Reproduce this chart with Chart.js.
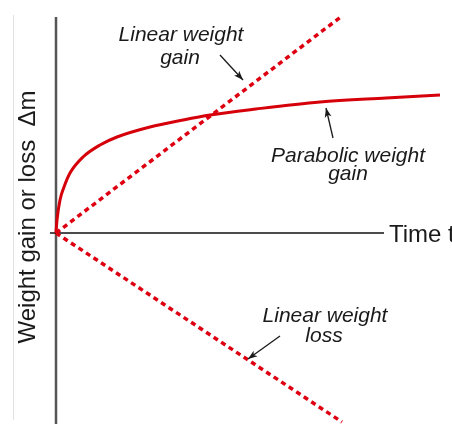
<!DOCTYPE html>
<html>
<head>
<meta charset="utf-8">
<script src="https://cdn.jsdelivr.net/npm/chart.js@4"></script>
<style>
  html, body { margin: 0; padding: 0; background: #fff; }
  #wrap { width: 452px; height: 424px; position: relative; }
</style>
</head>
<body>
<div id="wrap"><canvas id="myChart"></canvas></div>
<script>
// data (x = time, y = weight change), arbitrary units
const parabolicX = [0, 1, 4, 8, 14, 27, 44, 61, 94, 127, 154, 200, 264, 330, 384]
const parabolicY = [0, 13, 33, 46, 60, 76, 88, 96, 106, 113, 118, 124, 131, 135, 138]
const linearGainX = [0, 286]
const linearGainY = [0, 217]
const linearLossX = [0, 286]
const linearLossY = [0, -189]

const toPoints = (xs, ys) => xs.map((x, i) => ({ x: x, y: ys[i] }))

const red = 'rgb(222,0,16)'

const axesAndNotes = {
  id: 'axesAndNotes',
  beforeDatasetsDraw(chart) {
    const c = chart.ctx
    const x = chart.scales.x
    const y = chart.scales.y
    c.save()
    // faint frame line on the left
    c.strokeStyle = '#e2e2e2'
    c.lineWidth = 1
    c.beginPath()
    c.moveTo(13.5, 15)
    c.lineTo(13.5, 420)
    c.stroke()
    // y axis
    c.strokeStyle = '#555'
    c.lineWidth = 2.5
    c.beginPath()
    c.moveTo(x.getPixelForValue(0), y.getPixelForValue(216))
    c.lineTo(x.getPixelForValue(0), y.getPixelForValue(y.min))
    c.stroke()
    // x axis
    c.strokeStyle = '#111'
    c.lineWidth = 1.5
    c.beginPath()
    c.moveTo(x.getPixelForValue(-6), y.getPixelForValue(0))
    c.lineTo(x.getPixelForValue(328), y.getPixelForValue(0))
    c.stroke()
    c.restore()
  },
  afterDatasetsDraw(chart) {
    const c = chart.ctx
    c.save()
    c.fillStyle = '#1a1a1a'
    c.font = '24px "Liberation Sans", Arial, sans-serif'
    c.textAlign = 'left'
    c.textBaseline = 'alphabetic'
    c.fillText('Time t', 389, 242)

    c.save()
    c.translate(35, 217)
    c.rotate(-Math.PI / 2)
    c.textAlign = 'center'
    c.fillText('Weight gain or loss  \u0394m', 0, 0)
    c.restore()

    c.font = 'italic 21px "Liberation Sans", Arial, sans-serif'
    c.textAlign = 'center'
    c.fillText('Linear weight', 181, 41)
    c.fillText('gain', 180, 64)
    c.fillText('Parabolic weight', 348, 162)
    c.fillText('gain', 348, 180)
    c.fillText('Linear weight', 325, 322)
    c.fillText('loss', 324, 342)

    const arrow = (x1, y1, x2, y2) => {
      c.strokeStyle = '#1a1a1a'
      c.fillStyle = '#1a1a1a'
      c.lineWidth = 1.3
      c.beginPath()
      c.moveTo(x1, y1)
      c.lineTo(x2, y2)
      c.stroke()
      const a = Math.atan2(y2 - y1, x2 - x1)
      const len = 10, w = 0.35
      c.beginPath()
      c.moveTo(x2, y2)
      c.lineTo(x2 - len * Math.cos(a - w), y2 - len * Math.sin(a - w))
      c.lineTo(x2 - len * 0.7 * Math.cos(a), y2 - len * 0.7 * Math.sin(a))
      c.lineTo(x2 - len * Math.cos(a + w), y2 - len * Math.sin(a + w))
      c.closePath()
      c.fill()
    }
    arrow(220, 55, 243, 80)
    arrow(333, 138, 326, 108)
    arrow(280, 336, 248, 359)
    c.restore()
  }
}

const ctx = document.getElementById('myChart')

const myChart = new Chart(ctx, {
  type: 'scatter',
  data: {
    datasets: [
      {
        label: 'Linear weight gain',
        data: toPoints(linearGainX, linearGainY),
        showLine: true,
        borderColor: red,
        borderWidth: 3.5,
        borderDash: [5, 4],
        pointRadius: 0
      },
      {
        label: 'Linear weight loss',
        data: toPoints(linearLossX, linearLossY),
        showLine: true,
        borderColor: red,
        borderWidth: 3.5,
        borderDash: [5, 4],
        pointRadius: 0
      },
      {
        label: 'Parabolic weight gain',
        data: toPoints(parabolicX, parabolicY),
        showLine: true,
        borderColor: 'rgb(214,0,10)',
        borderWidth: 3,
        cubicInterpolationMode: 'monotone',
        pointRadius: 0
      }
    ]
  },
  options: {
    responsive: true,
    maintainAspectRatio: false,
    animation: false,
    layout: { padding: 0 },
    plugins: {
      legend: { display: false },
      tooltip: { enabled: false }
    },
    scales: {
      x: { type: 'linear', display: false, min: -56, max: 396 },
      y: { type: 'linear', display: false, min: -191, max: 233 }
    }
  },
  plugins: [axesAndNotes]
})
</script>
</body>
</html>
